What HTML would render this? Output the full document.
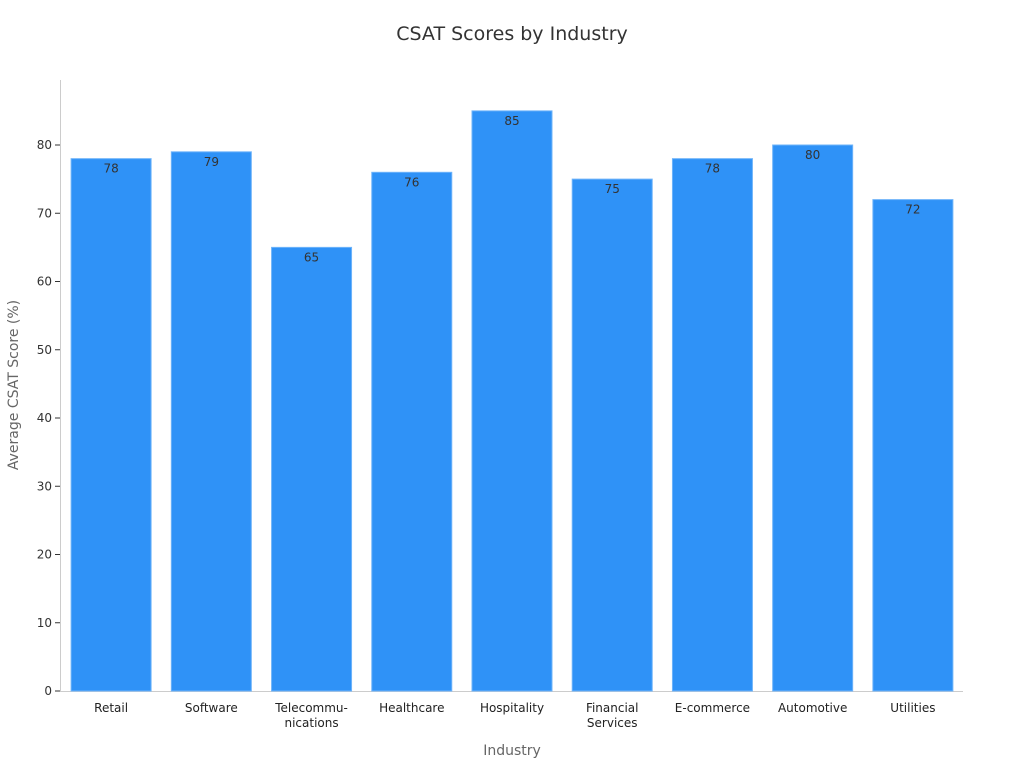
<!DOCTYPE html>
<html><head><meta charset="utf-8"><style>
body{margin:0;background:#fff;font-family:"DejaVu Sans","Liberation Sans",sans-serif;}
</style></head><body>
<svg id="chart" width="1024" height="768" xmlns="http://www.w3.org/2000/svg" font-family="DejaVu Sans, Liberation Sans, sans-serif">
<text x="512" y="40" text-anchor="middle" font-size="19" fill="#333">CSAT Scores by Industry</text>
<text x="512" y="755" text-anchor="middle" font-size="14" fill="#666">Industry</text>
<text transform="translate(18,385) rotate(-90)" text-anchor="middle" font-size="14" fill="#666">Average CSAT Score (%)</text>
<g id="plot"></g>
</svg>
<script>
const categories=[["Retail"],["Software"],["Telecommu-","nications"],["Healthcare"],["Hospitality"],["Financial","Services"],["E-commerce"],["Automotive"],["Utilities"]];
const values=[78,79,65,76,85,75,78,80,72];
const yTicks=[0,10,20,30,40,50,60,70,80];
const NS="http://www.w3.org/2000/svg";
const g=document.getElementById('plot');
const x0=61,x1=963,y0=691,pxPerUnit=546/80;
const band=(x1-x0)/categories.length,barW=80;
const yScale=v=>y0-v*pxPerUnit;
const xScale=i=>x0+i*band+(band-barW)/2;
function mk(t,a){const e=document.createElementNS(NS,t);for(const k in a)e.setAttribute(k,a[k]);g.appendChild(e);return e;}
let ax=mk('line',{x1:60.5,y1:80,x2:60.5,y2:692,stroke:'#ccc'});


let bx=mk('line',{x1:60,y1:691.5,x2:963,y2:691.5,stroke:'#ccc'});


yTicks.forEach(t=>{
 const y=yScale(t);
 let tk=mk('line',{x1:55,x2:60,y1:y,y2:y,stroke:'#333'});
 
 
 let tl=mk('text',{x:52,y:y+4,'text-anchor':'end','font-size':12,fill:'#333'});
 tl.textContent=t;
 
 
});
values.forEach((v,i)=>{
 const x=xScale(i),y=yScale(v);
 let r=mk('rect',{x:x,y:y,width:barW,height:y0-y,fill:'#2f92f7',stroke:'#6fb4fa','stroke-width':1});
 
 
 let vl=mk('text',{x:x+barW/2,y:y+14,'text-anchor':'middle','font-size':12,fill:'#333'});
 vl.textContent=v;
 
 
 categories[i].forEach((line,j)=>{
  let cl=mk('text',{x:x+barW/2,y:712+j*15,'text-anchor':'middle','font-size':12,fill:'#222'});
  cl.textContent=line;
  
  
 });
});
</script>
</body></html>
